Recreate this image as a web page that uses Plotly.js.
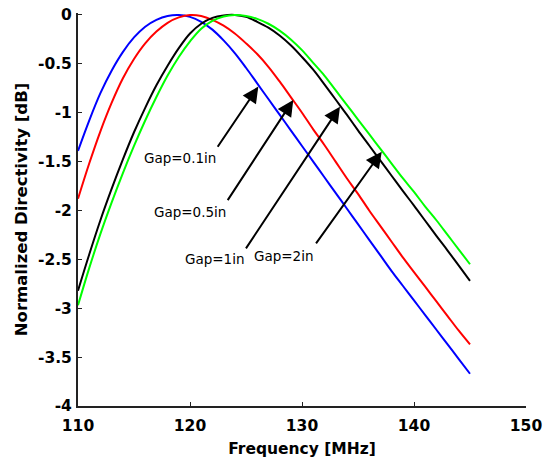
<!DOCTYPE html>
<html>
<head>
<meta charset="utf-8">
<script src="https://cdn.plot.ly/plotly-3.0.1.min.js"></script>
<style>html,body{margin:0;padding:0;background:#fff;}#chart{width:551px;height:463px;}</style>
</head>
<body>
<div id="chart"></div>
<script>
// Frequency [MHz]
const freq = [110,111,112,113,114,115,116,117,118,119,120,121,122,123,124,125,126,127,128,129,130,131,132,133,134,135,136,137,138,139,140,141,142,143,144,145];
// Normalized directivity [dB]
const gap01 = [-1.39,-1.08,-0.80,-0.57,-0.38,-0.23,-0.12,-0.05,-0.01,0,-0.02,-0.07,-0.15,-0.26,-0.39,-0.54,-0.70,-0.86,-1.02,-1.18,-1.34,-1.50,-1.66,-1.82,-1.98,-2.14,-2.30,-2.46,-2.62,-2.77,-2.92,-3.07,-3.22,-3.37,-3.52,-3.67];
const gap05 = [-1.88,-1.52,-1.19,-0.90,-0.65,-0.45,-0.29,-0.17,-0.08,-0.025,0,-0.01,-0.05,-0.11,-0.19,-0.29,-0.40,-0.53,-0.68,-0.84,-1.00,-1.17,-1.33,-1.50,-1.67,-1.83,-2.00,-2.16,-2.32,-2.48,-2.63,-2.78,-2.93,-3.08,-3.23,-3.37];
const gap1 = [-2.82,-2.45,-2.10,-1.78,-1.48,-1.20,-0.95,-0.72,-0.52,-0.34,-0.19,-0.09,-0.03,-0.005,0,-0.02,-0.07,-0.13,-0.21,-0.31,-0.43,-0.56,-0.71,-0.865,-1.02,-1.18,-1.335,-1.49,-1.645,-1.80,-1.95,-2.105,-2.26,-2.41,-2.565,-2.72];
const gap2 = [-2.97,-2.59,-2.24,-1.92,-1.62,-1.34,-1.08,-0.84,-0.62,-0.43,-0.27,-0.14,-0.06,-0.015,0,-0.01,-0.04,-0.09,-0.16,-0.25,-0.36,-0.49,-0.62,-0.77,-0.92,-1.07,-1.22,-1.37,-1.52,-1.67,-1.81,-1.96,-2.10,-2.25,-2.40,-2.55];
const seriesNames = ["Gap=0.1in","Gap=0.5in","Gap=1in","Gap=2in"];
const xTickVals = [110,120,130,140,150];
const xTickText = ["110","120","130","140","150"];
const yTickVals = [0,-0.5,-1,-1.5,-2,-2.5,-3,-3.5,-4];
const yTickText = ["0","-0.5","-1","-1.5","-2","-2.5","-3","-3.5","-4"];

const colors = ["#0000ff","#ff0000","#000000","#00ff00"];
const ys = [gap01, gap05, gap1, gap2];
const traces = ys.map((y,i)=>({
  x: freq, y: y, type: "scatter", mode: "lines", name: seriesNames[i],
  line: {color: colors[i], width: 2, shape: "spline", smoothing: 1}
}));

// arrow geometry (head on curve, tail near label)
const arrows = [
  {x:126.1, y:-0.733, ax:122.38, ay:-1.363, tx:119.1, ty:-1.462},
  {x:129.22, y:-0.869, ax:123.28, ay:-1.909, tx:120.0, ty:-2.015},
  {x:133.39, y:-0.938, ax:124.91, ay:-2.403, tx:122.2, ty:-2.495},
  {x:137.12, y:-1.398, ax:131.16, ay:-2.352, tx:128.4, ty:-2.47}
];
const annotations = [];
arrows.forEach((a,i)=>{
  annotations.push({x:a.x, y:a.y, ax:a.ax, ay:a.ay, xref:"x", yref:"y", axref:"x", ayref:"y",
    text:"", showarrow:true, arrowhead:2, arrowsize:1.6, arrowwidth:2, arrowcolor:"#000"});
  annotations.push({x:a.tx, y:a.ty, xref:"x", yref:"y", text:seriesNames[i], showarrow:false,
    font:{family:"DejaVu Sans", size:13.5, color:"#000"}});
});

const layout = {
  width: 551, height: 463,
  margin: {l:78, r:25, t:13, b:57},
  paper_bgcolor:"#fff", plot_bgcolor:"#fff",
  showlegend:false,
  font:{family:"DejaVu Sans", color:"#000"},
  xaxis:{range:[110,150], tickvals:xTickVals, ticktext:xTickText, ticks:"inside", ticklen:4, tickwidth:1, tickcolor:"#222",
    showline:true, linecolor:"#222", linewidth:2, showgrid:false, zeroline:false, mirror:false, ticklabelstandoff:4,
    tickfont:{family:"DejaVu Sans", size:15.5, weight:"bold", color:"#000"},
    title:{text:"<b>Frequency [MHz]</b>", font:{family:"DejaVu Sans", size:15.5, color:"#000"}, standoff:10}},
  yaxis:{range:[-4,0.02], tickvals:yTickVals, ticktext:yTickText, ticks:"inside", ticklen:4, tickwidth:1, tickcolor:"#222",
    showline:true, linecolor:"#222", linewidth:2, showgrid:false, zeroline:false, mirror:false, ticklabelstandoff:1,
    tickfont:{family:"DejaVu Sans", size:15.5, weight:"bold", color:"#000"},
    title:{text:"<b>Normalized Directivity [dB]</b>", font:{family:"DejaVu Sans", size:16.5, color:"#000"}, standoff:6}},
  annotations: annotations
};
Plotly.newPlot("chart", traces, layout, {staticPlot:true, displayModeBar:false});
</script>
</body>
</html>
